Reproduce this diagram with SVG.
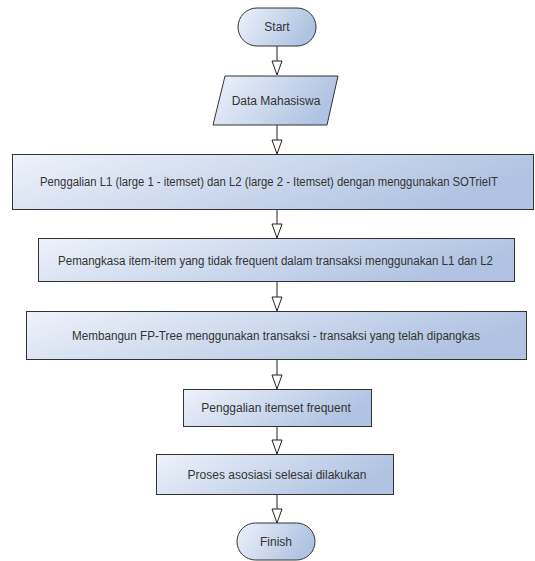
<svg xmlns="http://www.w3.org/2000/svg" width="535" height="561" viewBox="0 0 535 561">
<defs>
<linearGradient id="g" x1="0" y1="0" x2="1" y2="0.3">
<stop offset="0" stop-color="#eef2fa"/>
<stop offset="1" stop-color="#b0c3e2"/>
</linearGradient>
<style>
.s{fill:url(#g);stroke:#333;stroke-width:1}
.t{font-family:"Liberation Sans",Arial,sans-serif;font-size:12px;fill:#333;text-anchor:middle;dominant-baseline:central}
.c line{stroke:#222;stroke-width:1}
.c polygon{fill:#fff;stroke:#222;stroke-width:1}
</style>
</defs>
<rect width="535" height="561" fill="#fff"/>
<g class="c" id="connectors">
<line x1="277" y1="46" x2="277" y2="61"/><polygon points="272,61 282,61 277,75"/>
<line x1="277" y1="125" x2="277" y2="140"/><polygon points="272,140 282,140 277,154"/>
<line x1="277" y1="210" x2="277" y2="224"/><polygon points="272,224 282,224 277,238"/>
<line x1="277" y1="282" x2="277" y2="297"/><polygon points="272,297 282,297 277,311"/>
<line x1="277" y1="360" x2="277" y2="375"/><polygon points="272,375 282,375 277,389"/>
<line x1="277" y1="427" x2="277" y2="440"/><polygon points="272,440 282,440 277,454"/>
<line x1="277" y1="495" x2="277" y2="509"/><polygon points="272,509 282,509 277,523"/>
</g>
<g id="start"><rect class="s" x="238" y="8" width="78" height="38" rx="19"/><text class="t" x="277" y="27">Start</text></g>
<g id="data"><polygon class="s" points="225,76 338,76 327,125 213,125"/><text class="t" x="276" y="101">Data Mahasiswa</text></g>
<g id="step1"><rect class="s" x="12.5" y="154.5" width="521" height="55"/><text class="t" x="269" y="182" textLength="458" lengthAdjust="spacingAndGlyphs">Penggalian L1 (large 1 - itemset) dan L2 (large 2 - Itemset) dengan menggunakan SOTrieIT</text></g>
<g id="step2"><rect class="s" x="38.5" y="238.5" width="476" height="43"/><text class="t" x="275.5" y="261" textLength="435" lengthAdjust="spacingAndGlyphs">Pemangkasa item-item yang tidak frequent dalam transaksi menggunakan L1 dan L2</text></g>
<g id="step3"><rect class="s" x="26.5" y="311.5" width="500" height="48"/><text class="t" x="276" y="336" textLength="408" lengthAdjust="spacingAndGlyphs">Membangun FP-Tree menggunakan transaksi - transaksi yang telah dipangkas</text></g>
<g id="step4"><rect class="s" x="183.5" y="389.5" width="188" height="37"/><text class="t" x="276" y="408">Penggalian itemset frequent</text></g>
<g id="step5"><rect class="s" x="156.5" y="454.5" width="237" height="40"/><text class="t" x="277" y="475">Proses asosiasi selesai dilakukan</text></g>
<g id="finish"><rect class="s" x="237" y="523" width="78" height="37" rx="18.5"/><text class="t" x="276" y="542">Finish</text></g>
</svg>
